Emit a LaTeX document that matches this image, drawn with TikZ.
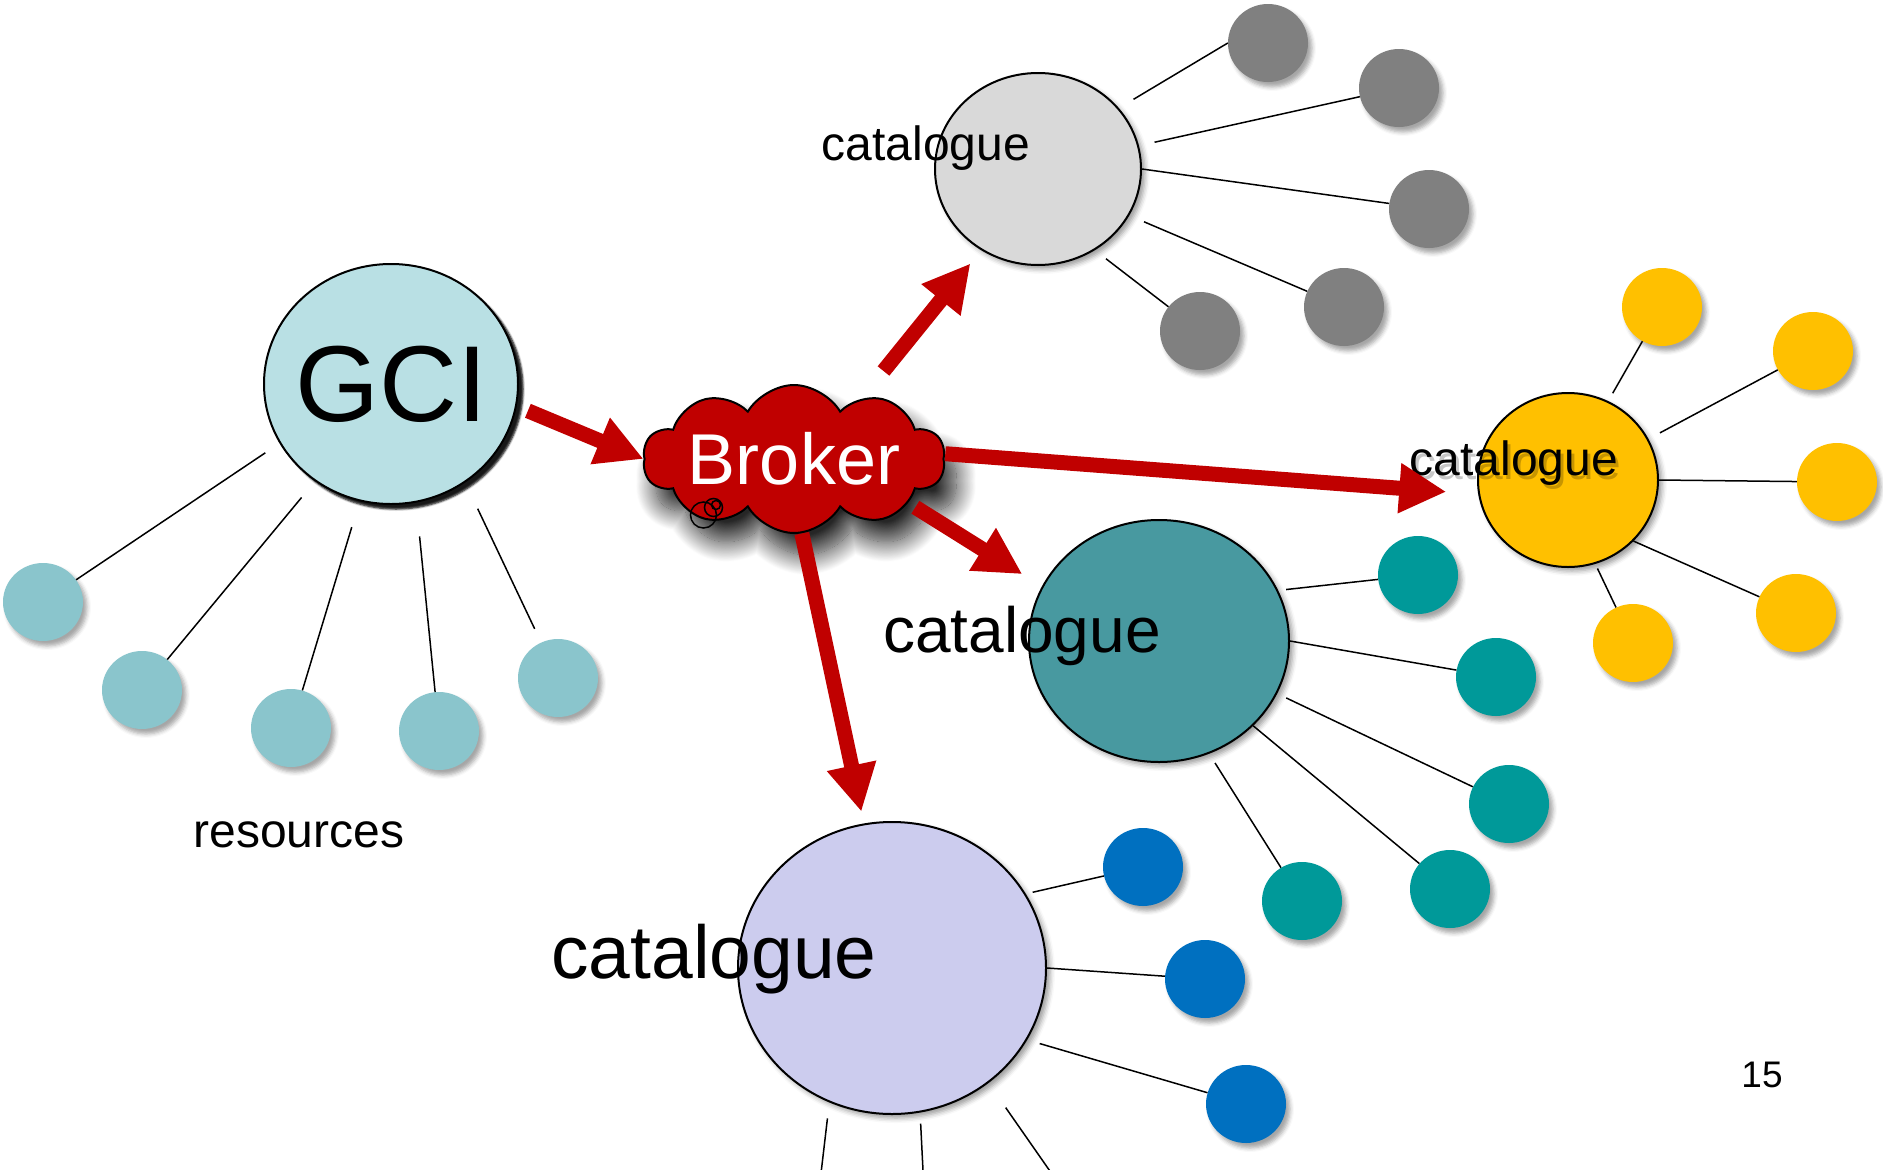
\documentclass[tikz,border=0pt]{standalone}
\usepackage{fontspec}
\setmainfont{Liberation Sans}
\usepackage{tikz}
\usetikzlibrary{shapes.geometric,shapes.symbols,shadows.blur,arrows.meta}
\definecolor{brokerred}{HTML}{C00000}
\definecolor{gcifill}{HTML}{B9E0E4}
\definecolor{gcileaf}{HTML}{8AC5CC}
\definecolor{catgray}{HTML}{D9D9D9}
\definecolor{leafgray}{HTML}{808080}
\definecolor{catyellow}{HTML}{FFC000}
\definecolor{catteal}{HTML}{4899A0}
\definecolor{leafteal}{HTML}{009999}
\definecolor{catlav}{HTML}{CCCCEE}
\definecolor{leafblue}{HTML}{0070C0}
\newcommand{\fsz}[1]{\fontsize{#1}{#1}\selectfont}
\tikzstyle{hub}=[ellipse,draw,line width=2pt,inner sep=0pt,
  blur shadow={shadow xshift=4pt,shadow yshift=-4pt,shadow blur radius=5pt,shadow opacity=40}]
\tikzstyle{leaf}=[ellipse,minimum width=80pt,minimum height=78pt,inner sep=0pt,
  blur shadow={shadow xshift=4pt,shadow yshift=-5pt,shadow blur radius=4pt,shadow opacity=35}]
\tikzstyle{spoke}=[line width=1.5pt]
\tikzstyle{bigarrow}=[brokerred,line width=15pt,-{Triangle[length=47pt,width=47pt]}]

\begin{document}
\begin{tikzpicture}[x=1pt,y=-1pt]
\useasboundingbox (0,0) rectangle (1883,1170);
% GCI and its resources
\node[hub,fill=gcifill,minimum width=254pt,minimum height=240pt,font=\fsz{108},
  blur shadow={shadow xshift=5pt,shadow yshift=-5pt,shadow blur radius=2pt,shadow opacity=70}] (gci) at (391,384) {\makebox[0pt]{GCI}};
\node[leaf,fill=gcileaf] (r1) at (43,602) {};
\node[leaf,fill=gcileaf] (r2) at (142,690) {};
\node[leaf,fill=gcileaf] (r3) at (291,728) {};
\node[leaf,fill=gcileaf] (r4) at (439,731) {};
\node[leaf,fill=gcileaf] (r5) at (558,678) {};
\node[anchor=base,font=\fsz{48}] (res) at (299,847) {resources};
\draw[spoke,shorten <=17pt] (gci.208) -- (r1);
\draw[spoke,shorten <=21pt] (gci.232.9) -- (r2);
\draw[spoke,shorten <=27pt] (gci.255.1) -- (r3);
\draw[spoke,shorten <=34pt] (gci.282.7) -- (r4);
\draw[spoke,shorten <=29pt,shorten >=15pt] (gci.307.4) -- (r5);

% top catalogue
\node[hub,fill=catgray,minimum width=206pt,minimum height=192pt] (catT) at (1038,169) {};
\node[leaf,fill=leafgray] (t1) at (1268,43) {};
\node[leaf,fill=leafgray] (t2) at (1399,88) {};
\node[leaf,fill=leafgray] (t3) at (1429,209) {};
\node[leaf,fill=leafgray] (t4) at (1344,307) {};
\node[leaf,fill=leafgray] (t5) at (1200,331) {};
\draw[spoke,shorten <=17pt] (catT.37.5) -- (t1.west);
\draw[spoke,shorten <=16pt] (catT.13.7) -- (t2);
\draw[spoke] (catT.-0.5) -- (t3);
\draw[spoke,shorten <=16pt] (catT.-27.6) -- (t4);
\draw[spoke,shorten <=14pt] (catT.-55.9) -- (t5);
\node[anchor=base,font=\fsz{48}] (labT) at (926,160) {catalogue};

% yellow catalogue
\node[hub,fill=catyellow,minimum width=180pt,minimum height=174pt] (catY) at (1568,480) {};
\node[leaf,fill=catyellow] (y1) at (1662,307) {};
\node[leaf,fill=catyellow] (y2) at (1813,351) {};
\node[leaf,fill=catyellow] (y3) at (1837,482) {};
\node[leaf,fill=catyellow] (y4) at (1796,613) {};
\node[leaf,fill=catyellow] (y5) at (1633,643) {};
\draw[spoke,shorten <=9pt] (catY.63.7) -- (y1);
\draw[spoke,shorten <=13pt] (catY.27.3) -- (y2);
\draw[spoke] (catY.0) -- (y3);
\draw[spoke] (catY.-43.7) -- (y4);
\draw[spoke,shorten <=5pt] (catY.-72.3) -- (y5);
\node[anchor=base,font=\fsz{48},text=black,opacity=.22] (labYs) at (1517,479) {catalogue};
\node[anchor=base,font=\fsz{48}] (labY) at (1514,475) {catalogue};

% teal catalogue
\node[hub,fill=catteal,minimum width=260pt,minimum height=242pt] (catG) at (1159,641) {};
\node[leaf,fill=leafteal] (g1) at (1418,575) {};
\node[leaf,fill=leafteal] (g2) at (1496,677) {};
\node[leaf,fill=leafteal] (g3) at (1509,804) {};
\node[leaf,fill=leafteal] (g4) at (1450,889) {};
\node[leaf,fill=leafteal] (g5) at (1302,901) {};
\draw[spoke,shorten <=8pt] (catG.23.2) -- (g1);
\draw[spoke] (catG.0) -- (g2);
\draw[spoke,shorten <=10pt] (catG.-24) -- (g3);
\draw[spoke] (catG.-42.8) -- (g4);
\draw[spoke,shorten <=11pt] (catG.-66.5) -- (g5);
\node[anchor=base,font=\fsz{64}] (labG) at (1022,652) {catalogue};

% lavender catalogue
\node[hub,fill=catlav,minimum width=308pt,minimum height=292pt] (catL) at (892,968) {};
\node[leaf,fill=leafblue] (b1) at (1143,867) {};
\node[leaf,fill=leafblue] (b2) at (1205,979) {};
\node[leaf,fill=leafblue] (b3) at (1246,1104) {};
\coordinate (b4) at (812,1250);
\coordinate (b5) at (927,1250);
\coordinate (b6) at (1105,1250);
\draw[spoke,shorten <=7pt] (catL.29.8) -- (b1);
\draw[spoke] (catL.0) -- (b2);
\draw[spoke,shorten <=13pt] (catL.-28.4) -- (b3);
\draw[spoke,shorten <=16pt] (catL.245) -- (b4);
\draw[spoke,shorten <=11pt] (catL.-79) -- (b5);
\draw[spoke,shorten <=30pt] (catL.-50.4) -- (b6);
\node[anchor=base,font=\fsz{75}] (labL) at (714,978) {catalogue};

% broker
\node[cloud,cloud puffs=10,cloud puff arc=120,cloud ignores aspect,minimum width=302pt,minimum height=148pt,
  inner sep=0pt,draw,line width=2pt,fill=brokerred,text=white,font=\fsz{72},
  blur shadow={shadow xshift=12pt,shadow yshift=-22pt,shadow blur radius=20pt,shadow opacity=85,shadow blur steps=25}] (broker) at (794,459) {Broker};
\draw[line width=1.5pt] (703.5,515) circle (13);
\draw[line width=1.5pt] (713.5,507.5) circle (9);
\draw[line width=1.5pt] (716,505) circle (4.5);

\draw[bigarrow,shorten <=12pt] (gci.-10) -- (broker.west);
\draw[bigarrow,shorten <=35pt,shorten >=17pt] (broker.42) -- (catT.235.6);
\draw[bigarrow,shorten >=32pt] (broker.2) -- (catY.189.4);
\draw[bigarrow,shorten <=8pt,shorten >=23pt] (broker.-21) -- (catG.155.8);
\draw[bigarrow,shorten >=12pt] (broker.-84) -- (catL.101.7);

\node[anchor=base,font=\fsz{37}] (page) at (1762,1087) {15};
\end{tikzpicture}
\end{document}
